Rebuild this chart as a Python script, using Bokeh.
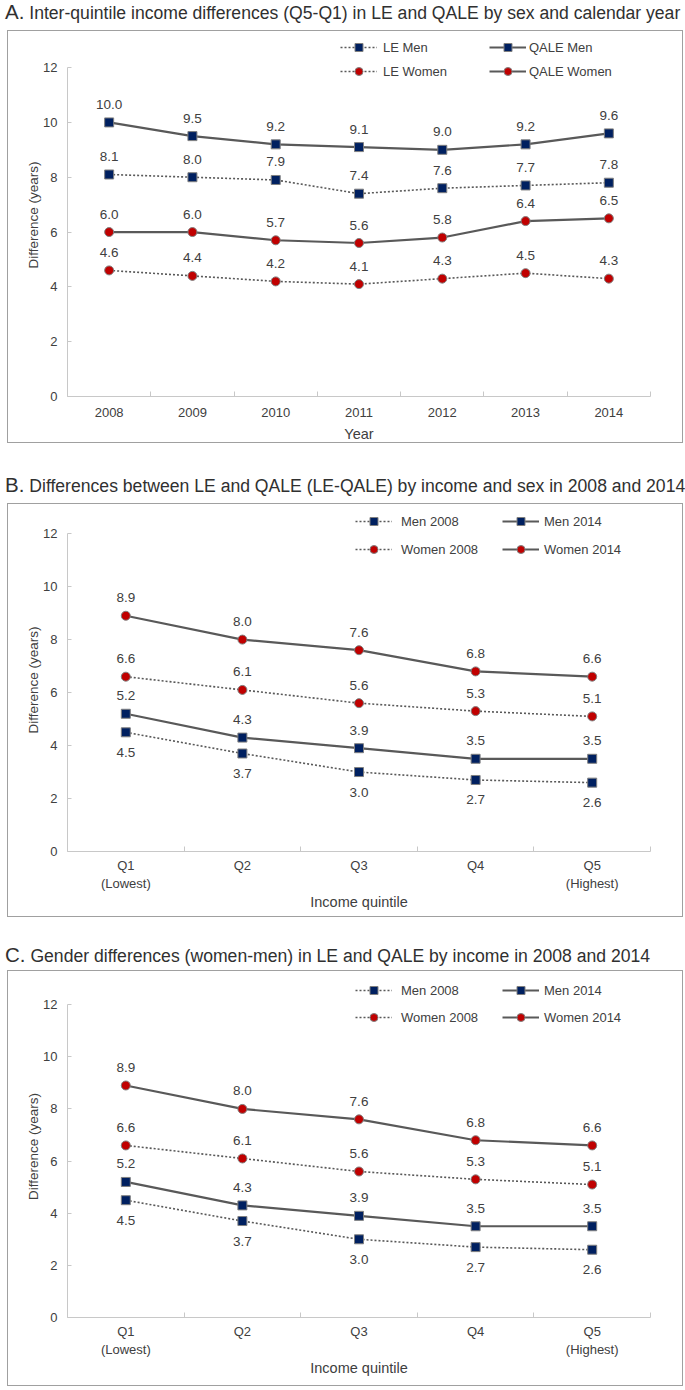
from bokeh.plotting import figure
from bokeh.models import Range1d, FixedTicker, Legend, LegendItem, Div, ColumnDataSource
from bokeh.layouts import column
from bokeh.embed import file_html
from bokeh.resources import INLINE
from bokeh.core.properties import value

# ---------------- data ----------------
years = ["2008", "2009", "2010", "2011", "2012", "2013", "2014"]
le_men = [8.1, 8.0, 7.9, 7.4, 7.6, 7.7, 7.8]
qale_men = [10.0, 9.5, 9.2, 9.1, 9.0, 9.2, 9.6]
le_women = [4.6, 4.4, 4.2, 4.1, 4.3, 4.5, 4.3]
qale_women = [6.0, 6.0, 5.7, 5.6, 5.8, 6.4, 6.5]

quintiles = ["Q1\n(Lowest)", "Q2", "Q3", "Q4", "Q5\n(Highest)"]
b_men_2008 = [4.5, 3.7, 3.0, 2.7, 2.6]
b_men_2014 = [5.2, 4.3, 3.9, 3.5, 3.5]
b_women_2008 = [6.6, 6.1, 5.6, 5.3, 5.1]
b_women_2014 = [8.9, 8.0, 7.6, 6.8, 6.6]

c_men_2008 = [4.5, 3.7, 3.0, 2.7, 2.6]
c_men_2014 = [5.2, 4.3, 3.9, 3.5, 3.5]
c_women_2008 = [6.6, 6.1, 5.6, 5.3, 5.1]
c_women_2014 = [8.9, 8.0, 7.6, 6.8, 6.6]

y_ticks = [0, 2, 4, 6, 8, 10, 12]

# ---------------- style ----------------
FONT = "Liberation Sans"
TXT = "#404040"
LINE = "#595959"
NAVY = "#002060"
RED = "#c00000"
AXIS = "#c8c8c8"
W = 676
Y_MAX = 12


def make_panel(cats, series, xlabel, box_h, top12, bottom, frame_top, lab_standoff, axlab_standoff):
    n = len(cats)
    hc = box_h - 2  # canvas inside the 1px border
    span12 = hc - top12 - bottom
    frame_h = hc - frame_top - bottom
    y_end = Y_MAX * frame_h / span12
    p = figure(width=W, height=box_h, x_range=Range1d(0.5, n + 0.5), y_range=Range1d(0, y_end),
               output_backend="svg", toolbar_location=None,
               min_border_left=59, min_border_right=34, min_border_top=frame_top,
               min_border_bottom=bottom,
               styles={"border": "1px solid #a0a0a0", "box-sizing": "border-box"})
    p.outline_line_color = None
    p.xgrid.visible = False
    p.ygrid.visible = False
    p.background_fill_color = "white"
    p.border_fill_color = "white"

    xs = list(range(1, n + 1))
    xa = p.xaxis[0]
    xa.ticker = FixedTicker(ticks=xs, minor_ticks=[x - 0.5 for x in xs] + [n + 0.5])
    xa.major_label_overrides = {x: c for x, c in zip(xs, cats)}
    xa.major_tick_in = 0
    xa.major_tick_out = 0
    xa.minor_tick_in = 5
    xa.minor_tick_out = 0
    xa.minor_tick_line_color = AXIS
    xa.axis_line_color = AXIS
    xa.major_label_text_font = FONT
    xa.major_label_text_font_size = "13px"
    xa.major_label_text_color = TXT
    xa.major_label_standoff = lab_standoff
    xa.axis_label = xlabel
    xa.axis_label_text_font = FONT
    xa.axis_label_text_font_size = "14.5px"
    xa.axis_label_text_font_style = "normal"
    xa.axis_label_text_color = TXT
    xa.axis_label_standoff = axlab_standoff

    ya = p.yaxis[0]
    ya.ticker = FixedTicker(ticks=y_ticks)
    ya.bounds = (0, Y_MAX)
    ya.major_tick_in = 4
    ya.major_tick_out = 0
    ya.major_tick_line_color = AXIS
    ya.minor_tick_line_color = None
    ya.axis_line_color = AXIS
    ya.major_label_text_font = FONT
    ya.major_label_text_font_size = "13px"
    ya.major_label_text_color = TXT
    ya.major_label_standoff = 10
    ya.axis_label = "Difference (years)"
    ya.axis_label_text_font = FONT
    ya.axis_label_text_font_size = "13.5px"
    ya.axis_label_text_font_style = "normal"
    ya.axis_label_text_color = TXT
    ya.axis_label_standoff = -1

    items = {}
    for name, vals, marker, dashed, below in series:
        src = ColumnDataSource(dict(x=xs, y=vals, t=["%.1f" % v for v in vals],
                                    off=[20 if below else -18] * n))
        lr = p.line("x", "y", source=src, line_color=LINE,
                    line_width=1.6 if dashed else 2.2,
                    line_dash="2 2" if dashed else "solid")
        if marker == "square":
            sr = p.scatter("x", "y", source=src, marker="square", size=9,
                           fill_color=NAVY, line_color="#808080", line_width=1)
        else:
            sr = p.scatter("x", "y", source=src, marker="circle", size=9,
                           fill_color=RED, line_color="#808080", line_width=1)
        p.text("x", "y", text="t", source=src, y_offset="off", text_align="center",
               text_baseline="middle", text_font=value(FONT), text_font_size="13.5px",
               text_color=TXT)
        items[name] = LegendItem(label=name, renderers=[lr, sr])
    return p, items, span12


def style_legend(lg, xy, spacing, standoff):
    lg.location = xy
    lg.orientation = "vertical"
    lg.border_line_color = None
    lg.background_fill_alpha = 0
    lg.padding = 0
    lg.margin = 0
    lg.spacing = spacing
    lg.glyph_width = 37
    lg.glyph_height = 20
    lg.label_height = 20
    lg.label_standoff = standoff
    lg.label_text_font = FONT
    lg.label_text_font_size = "13px"
    lg.label_text_color = TXT


def title_div(letter, text, h, mt):
    html = ('<div style="margin-top:%dpx; margin-left:-2px; line-height:20px; white-space:nowrap; '
            'font-family:\'Liberation Sans\'; font-size:17.6px; color:#303030;">'
            '<span style="font-size:20.5px">%s</span> %s</div>') % (mt, letter, text)
    return Div(text=html, width=W, height=h, margin=0,
               styles={"overflow": "visible"})


# Panel A: box 30..443
pa, ia, sa = make_panel(years, [
    ("LE Men", le_men, "square", True, False),
    ("QALE Men", qale_men, "square", False, False),
    ("LE Women", le_women, "circle", True, False),
    ("QALE Women", qale_women, "circle", False, False),
], "Year", 413, 36, 47, 2, 11, 6)
la1 = Legend(items=[ia["LE Men"], ia["LE Women"]])
la2 = Legend(items=[ia["QALE Men"], ia["QALE Women"]])
style_legend(la1, (273, sa - 13), 4, 6)
style_legend(la2, (422, sa - 13), 4, 3)
pa.add_layout(la1)
pa.add_layout(la2)

# Panel B: box 503..917
pb, ib, sb = make_panel(quintiles, [
    ("Men 2008", b_men_2008, "square", True, True),
    ("Men 2014", b_men_2014, "square", False, False),
    ("Women 2008", b_women_2008, "circle", True, False),
    ("Women 2014", b_women_2014, "circle", False, False),
], "Income quintile", 414, 29, 67, 4, 6, 0)
lb1 = Legend(items=[ib["Men 2008"], ib["Women 2008"]])
lb2 = Legend(items=[ib["Men 2014"], ib["Women 2014"]])
style_legend(lb1, (288, sb - 24), 8, 9)
style_legend(lb2, (435, sb - 24), 8, 5)
pb.add_layout(lb1)
pb.add_layout(lb2)

# Panel C: box 970..1386
pc, ic, sc = make_panel(quintiles, [
    ("Men 2008", c_men_2008, "square", True, True),
    ("Men 2014", c_men_2014, "square", False, False),
    ("Women 2008", c_women_2008, "circle", True, False),
    ("Women 2014", c_women_2014, "circle", False, False),
], "Income quintile", 416, 33, 70, 4, 6, 0)
lc1 = Legend(items=[ic["Men 2008"], ic["Women 2008"]])
lc2 = Legend(items=[ic["Men 2014"], ic["Women 2014"]])
style_legend(lc1, (288, sc - 21), 7, 9)
style_legend(lc2, (435, sc - 21), 7, 5)
pc.add_layout(lc1)
pc.add_layout(lc2)

ta = title_div("A.", "Inter-quintile income differences (Q5-Q1) in LE and QALE by sex and calendar year", 30, 2)
tb = title_div("B.", "Differences between LE and QALE (LE-QALE) by income and sex in 2008 and 2014", 60, 32)
tc = title_div("C.", "Gender differences (women-men) in LE and QALE by income in 2008 and 2014", 53, 28)

layout = column(ta, pa, tb, pb, tc, pc, spacing=0, margin=(0, 0, 0, 7))
open("out.html", "w").write(file_html(layout, INLINE))
